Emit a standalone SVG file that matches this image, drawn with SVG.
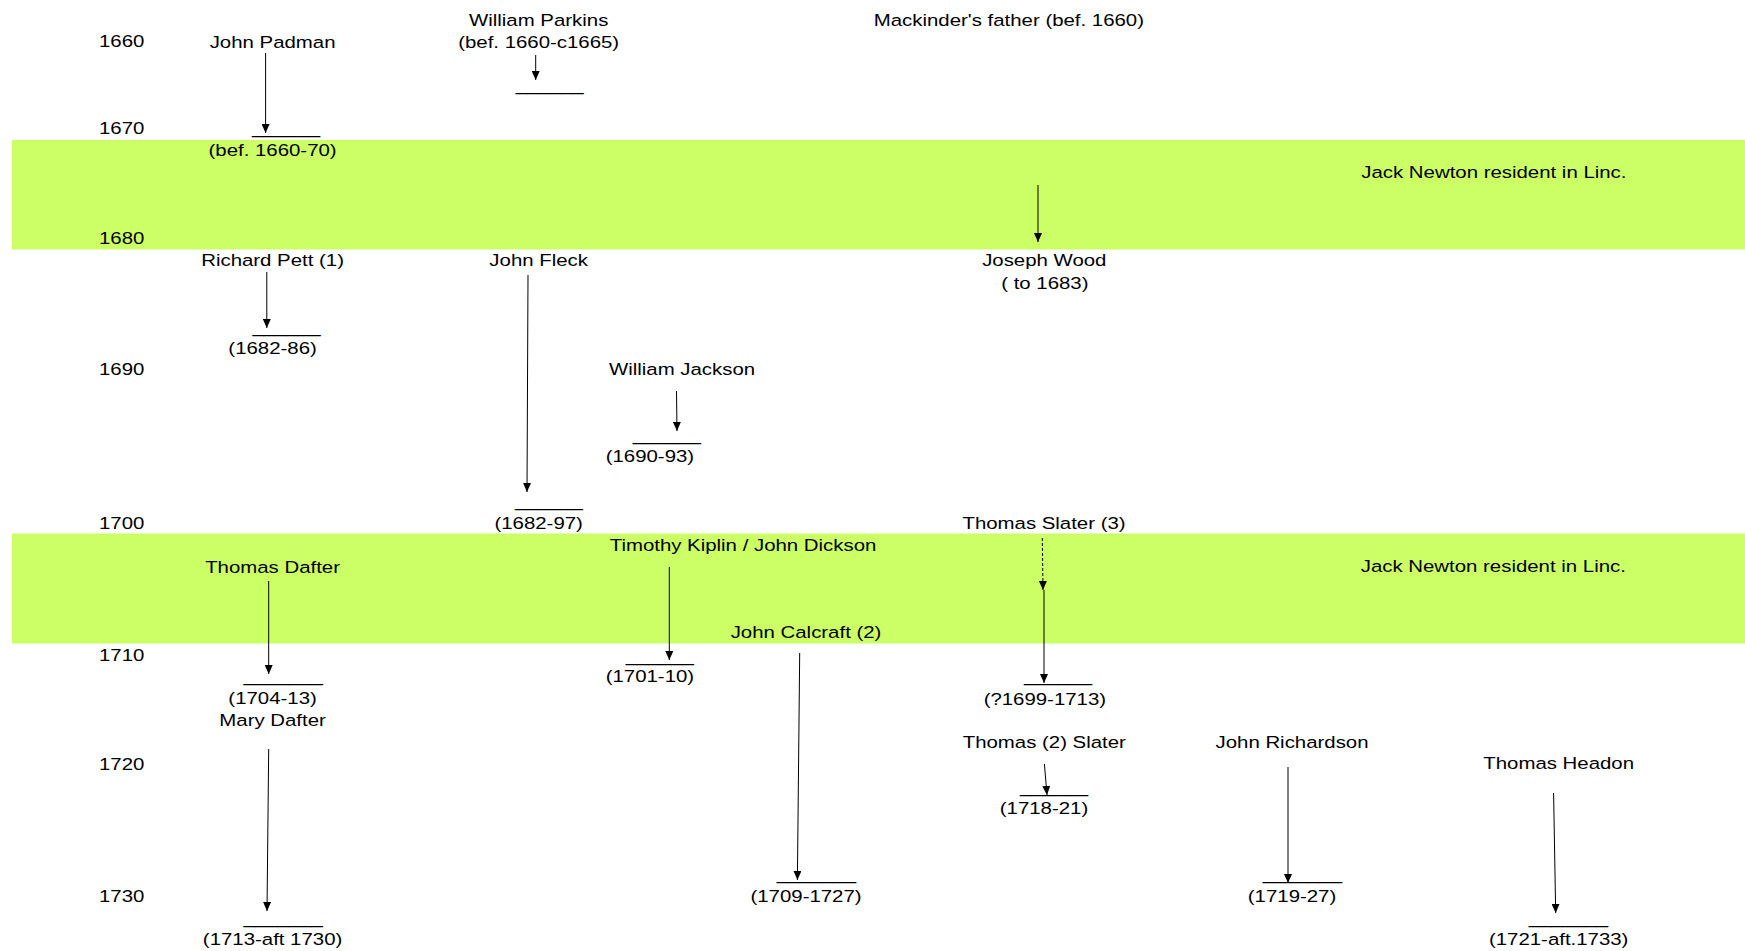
<svg xmlns="http://www.w3.org/2000/svg" width="1745" height="951" viewBox="0 0 1745 951">
<style>
.t{font-family:"Liberation Sans",Arial,sans-serif;font-size:17px;fill:#000}
.m{text-anchor:middle}
.band{fill:#ccff66}
.c{stroke:#000;stroke-width:1;fill:none;marker-end:url(#arr)}
.d{stroke-dasharray:3 2}
</style>
<defs>
<marker id="arr" viewBox="0 0 9 8" markerWidth="9" markerHeight="8" refX="9" refY="4" orient="auto" markerUnits="userSpaceOnUse">
<path d="M0,0 L9,4 L0,8 Z" fill="#000"/>
</marker>
</defs>
<rect width="1745" height="951" fill="#fff"/>
<g id="bands">
<rect class="band" x="12" y="140" width="1733" height="109.5"/>
<rect class="band" x="12" y="533.5" width="1733" height="110"/>
</g>
<g id="years" class="t" transform="scale(1.2 1)">
<text x="82.5" y="47">1660</text>
<text x="82.5" y="134">1670</text>
<text x="82.5" y="244">1680</text>
<text x="82.5" y="375">1690</text>
<text x="82.5" y="529">1700</text>
<text x="82.5" y="661">1710</text>
<text x="82.5" y="770">1720</text>
<text x="82.5" y="902">1730</text>
</g>
<g id="connectors">
<path class="c" d="M265.6,53 L265.6,133"/>
<path class="c" d="M535.7,55 L535.7,80"/>
<path class="c" d="M1038,185 L1038,242"/>
<path class="c" d="M266.8,272 L266.8,328"/>
<path class="c" d="M528,275 L527,492"/>
<path class="c" d="M676.5,391 L677,431"/>
<path class="c" d="M268.7,581 L268.7,674"/>
<path class="c" d="M669.3,567 L669.3,660"/>
<path class="c d" d="M1042.3,538 L1043,590"/>
<path class="c" d="M1044,590 L1044,683"/>
<path class="c" d="M799.7,653 L797.4,880"/>
<path class="c" d="M268.7,749 L267,911"/>
<path class="c" d="M1044.4,764 L1047,795"/>
<path class="c" d="M1288,767 L1288,883"/>
<path class="c" d="M1553.6,793 L1555.7,913"/>
</g>
<g id="padman" class="t" transform="scale(1.2 1)">
<text class="m" x="227.15" y="48">John Padman</text>
<text x="210.04" y="134.3">______</text>
<text class="m" x="227.15" y="156.5">(bef. 1660-70)</text>
</g>
<g id="parkins" class="t" transform="scale(1.2 1)">
<text class="m" x="448.9" y="26">William Parkins</text>
<text class="m" x="448.9" y="48">(bef. 1660-c1665)</text>
<text x="429.7" y="91.3">______</text>
</g>
<g id="mackinder" class="t" transform="scale(1.2 1)">
<text class="m" x="840.75" y="26">Mackinder's father (bef. 1660)</text>
</g>
<g id="newton1" class="t" transform="scale(1.2 1)">
<text class="m" x="1244.9" y="178">Jack Newton resident in Linc.</text>
</g>
<g id="wood" class="t" transform="scale(1.2 1)">
<text class="m" x="870.25" y="266">Joseph Wood</text>
<text class="m" x="870.7" y="289">( to 1683)</text>
</g>
<g id="pett" class="t" transform="scale(1.2 1)">
<text class="m" x="227.15" y="266">Richard Pett (1)</text>
<text x="210.4" y="332.6">______</text>
<text class="m" x="227.15" y="354.5">(1682-86)</text>
</g>
<g id="fleck" class="t" transform="scale(1.2 1)">
<text class="m" x="448.9" y="266">John Fleck</text>
<text x="429.1" y="506.9">______</text>
<text class="m" x="448.9" y="529.5">(1682-97)</text>
</g>
<g id="jackson" class="t" transform="scale(1.2 1)">
<text class="m" x="568.4" y="375">William Jackson</text>
<text x="527.3" y="440.9">______</text>
<text class="m" x="541.6" y="462">(1690-93)</text>
</g>
<g id="slater3" class="t" transform="scale(1.2 1)">
<text class="m" x="870" y="529">Thomas Slater (3)</text>
<text x="853.3" y="681.9">______</text>
<text class="m" x="870.7" y="705">(?1699-1713)</text>
</g>
<g id="kiplin" class="t" transform="scale(1.2 1)">
<text class="m" x="619.2" y="551.5">Timothy Kiplin / John Dickson</text>
<text x="521.5" y="661.6">______</text>
<text class="m" x="541.6" y="682">(1701-10)</text>
</g>
<g id="dafter" class="t" transform="scale(1.2 1)">
<text class="m" x="227.15" y="573">Thomas Dafter</text>
<text x="202.9" y="681.9">_______</text>
<text class="m" x="227.15" y="704">(1704-13)</text>
</g>
<g id="newton2" class="t" transform="scale(1.2 1)">
<text class="m" x="1244.4" y="572">Jack Newton resident in Linc.</text>
</g>
<g id="calcraft" class="t" transform="scale(1.2 1)">
<text class="m" x="671.7" y="638">John Calcraft (2)</text>
<text x="647.2" y="880.3">_______</text>
<text class="m" x="671.7" y="902">(1709-1727)</text>
</g>
<g id="marydafter" class="t" transform="scale(1.2 1)">
<text class="m" x="227.15" y="726">Mary Dafter</text>
<text x="202.9" y="924.3">_______</text>
<text class="m" x="227.15" y="945">(1713-aft 1730)</text>
</g>
<g id="slater2" class="t" transform="scale(1.2 1)">
<text class="m" x="870.25" y="748">Thomas (2) Slater</text>
<text x="850" y="792.6">______</text>
<text class="m" x="870" y="814.5">(1718-21)</text>
</g>
<g id="richardson" class="t" transform="scale(1.2 1)">
<text class="m" x="1076.7" y="748">John Richardson</text>
<text x="1052.2" y="880.3">_______</text>
<text class="m" x="1076.7" y="902">(1719-27)</text>
</g>
<g id="headon" class="t" transform="scale(1.2 1)">
<text class="m" x="1298.9" y="769.5">Thomas Headon</text>
<text x="1274" y="924.3">_______</text>
<text class="m" x="1298.9" y="945">(1721-aft.1733)</text>
</g>
</svg>
